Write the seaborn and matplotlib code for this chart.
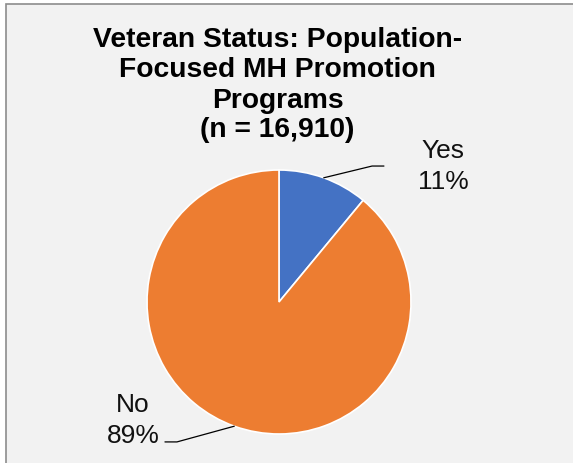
import numpy as np
import matplotlib
matplotlib.use("Agg")
import matplotlib.pyplot as plt
import seaborn as sns
from matplotlib.patches import Rectangle

# ---- data ----
categories = ["Yes", "No"]
percents = [11, 89]
colors = ["#4472C4", "#ED7D31"]
title_lines = ["Veteran Status: Population-", "Focused MH Promotion", "Programs", "(n = 16,910)"]

sns.set_theme(style="white")
plt.rcParams["font.family"] = ["Liberation Sans", "DejaVu Sans"]

W, H = 573, 463
fig = plt.figure(figsize=(W / 100, H / 100), dpi=100)
fig.patch.set_facecolor("white")

# chart area background + border
fig.patches.append(Rectangle((6 / W, -0.01), (W - 5) / W, (H - 4) / H + 0.01,
                             transform=fig.transFigure, facecolor="#F2F2F2",
                             edgecolor="#8C8C8C", linewidth=1.2, zorder=-10))

# pie axes: center (279, 302) px, radius 132 px
cx, cy, R = 279, 302, 132
ax = fig.add_axes([(cx - R) / W, (H - cy - R) / H, 2 * R / W, 2 * R / H])
ax.set_facecolor("none")
wedges, _ = ax.pie(percents, colors=colors, startangle=90, counterclock=False,
                   radius=1, wedgeprops=dict(edgecolor="white", linewidth=1.2))
ax.set_xlim(-1, 1)
ax.set_ylim(-1, 1)
ax.set_aspect("equal")
ax.axis("off")

# labels with leader lines, positions relative to the pie (data units)
label_pos = {"Yes": (1.242, 1.091), "No": (-1.106, -0.833)}
elbows = {"Yes": ((0.705, 1.03), (0.795, 1.03)), "No": ((-0.773, -1.06), (-0.864, -1.06))}
step = 0.238
for w, cat, pct in zip(wedges, categories, percents):
    mid = np.deg2rad((w.theta1 + w.theta2) / 2)
    ex, ey = np.cos(mid), np.sin(mid)
    (x1, y1), (x2, y2) = elbows[cat]
    ax.plot([ex, x1, x2], [ey, y1, y2], color="black", lw=0.9, clip_on=False)
    lx, ly = label_pos[cat]
    ax.text(lx, ly, cat, ha="center", va="baseline", fontsize=19, color="#111111")
    ax.text(lx, ly - step, f"{pct}%", ha="center", va="baseline", fontsize=19, color="#111111")

# title
baselines = [47, 77, 107.5, 137]
for line, b in zip(title_lines, baselines):
    fig.text(277.5 / W, 1 - b / H, line, ha="center", va="baseline",
             fontsize=20.3, fontweight="bold", color="black")

fig.savefig("out.png", dpi=100)
